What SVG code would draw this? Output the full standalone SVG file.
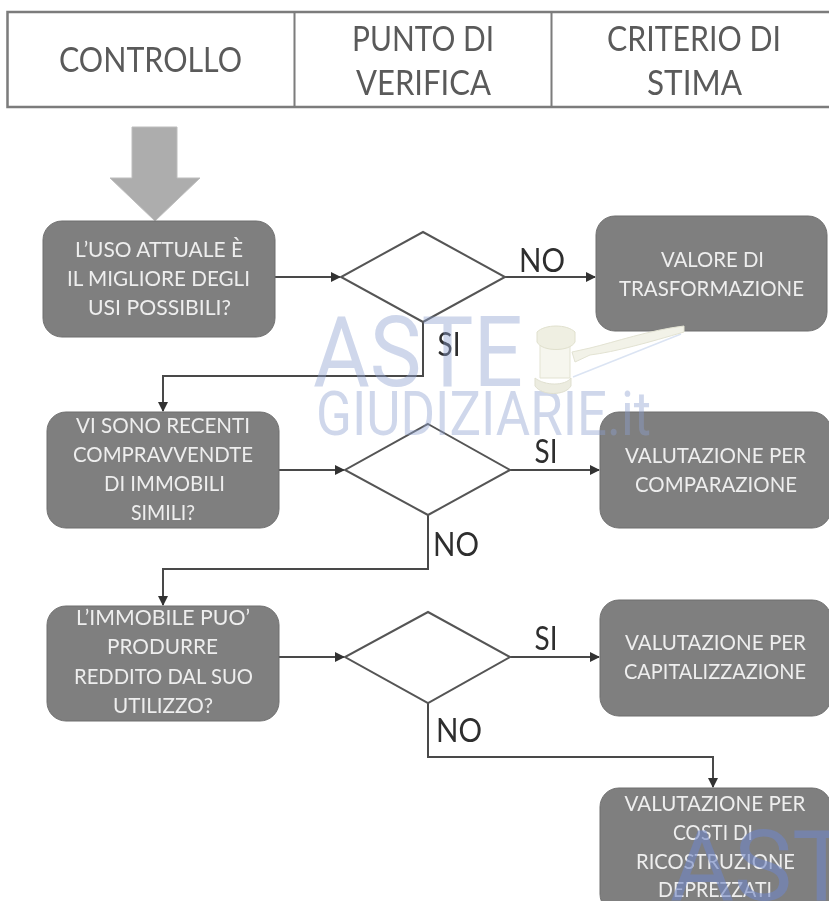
<svg xmlns="http://www.w3.org/2000/svg" width="829" height="901" viewBox="0 0 829 901">
<style>
text{font-family:"Lato","Liberation Sans",sans-serif;text-anchor:middle}
.h{font-size:34px;fill:#5a5a5a}
.n{font-size:21px;fill:#eeeeee}
.l{font-size:33px;fill:#2e2e2e}
.box{fill:#7f7f7f;stroke:#6f6f6f;stroke-width:1}
.dia{fill:#fff;stroke:#555;stroke-width:2}
.c{fill:none;stroke:#4a4a4a;stroke-width:2}
.w{font-family:"Roboto","Liberation Sans",sans-serif;fill:#8c9fd0;fill-opacity:.42;text-anchor:start;font-weight:400}
.w2{fill:#6f86c4;fill-opacity:.6}
</style>
<defs>
<marker id="a" markerWidth="11" markerHeight="11" refX="9" refY="5" orient="auto" markerUnits="userSpaceOnUse"><path d="M0 0L10 5L0 10Z" fill="#333"/></marker>
<filter id="b" x="-5%" y="-5%" width="110%" height="110%"><feGaussianBlur stdDeviation="0.7"/></filter>
</defs>
<rect width="829" height="901" fill="#fff"/>
<g filter="url(#b)">
<g id="header">
<path d="M829 12H7.500V107H829" fill="#fff" stroke="#7b7b7b" stroke-width="2.500"/>
<path d="M294.500 12V107M551.500 12V107" stroke="#7b7b7b" stroke-width="2"/>
<text class="h" x="150.500" y="72" textLength="183" lengthAdjust="spacingAndGlyphs">CONTROLLO</text>
<text class="h" x="423" y="51" textLength="142" lengthAdjust="spacingAndGlyphs">PUNTO DI</text>
<text class="h" x="423.500" y="95" textLength="135" lengthAdjust="spacingAndGlyphs">VERIFICA</text>
<text class="h" x="694" y="51" textLength="174" lengthAdjust="spacingAndGlyphs">CRITERIO DI</text>
<text class="h" x="694.500" y="95" textLength="95" lengthAdjust="spacingAndGlyphs">STIMA</text>
</g>
<g id="start-arrow"><path d="M132 127H177V178H200L155 221L110 178H132Z" fill="#adadad" stroke="#bdbdbd"/></g>
<g id="connectors">
<path class="c" d="M275 277H340" marker-end="url(#a)"/>
<path class="c" d="M505 277H595" marker-end="url(#a)"/>
<path class="c" d="M423 322V376H163V411" marker-end="url(#a)"/>
<path class="c" d="M279 470H344" marker-end="url(#a)"/>
<path class="c" d="M510 470H599" marker-end="url(#a)"/>
<path class="c" d="M428 515V569H163V605" marker-end="url(#a)"/>
<path class="c" d="M279 657H344" marker-end="url(#a)"/>
<path class="c" d="M510 657H599" marker-end="url(#a)"/>
<path class="c" d="M428 703V757H713V787" marker-end="url(#a)"/>
</g>
<g id="n1"><rect class="box" x="43" y="221" width="232" height="116" rx="19"/><text class="n" x="159" y="257" textLength="168" lengthAdjust="spacingAndGlyphs">L’USO ATTUALE È</text><text class="n" x="158.500" y="286" textLength="183" lengthAdjust="spacingAndGlyphs">IL MIGLIORE DEGLI</text><text class="n" x="159.500" y="315" textLength="143" lengthAdjust="spacingAndGlyphs">USI POSSIBILI?</text></g>
<g id="d1"><path class="dia" d="M423 232L505 277L423 322L341 277Z"/></g>
<g id="r1"><rect class="box" x="596" y="216" width="231" height="115" rx="19"/><text class="n" x="712.500" y="267" textLength="103" lengthAdjust="spacingAndGlyphs">VALORE DI</text><text class="n" x="711.500" y="296" textLength="185" lengthAdjust="spacingAndGlyphs">TRASFORMAZIONE</text></g>
<g id="n2"><rect class="box" x="47" y="412" width="232" height="116" rx="19"/><text class="n" x="163" y="433" textLength="174" lengthAdjust="spacingAndGlyphs">VI SONO RECENTI</text><text class="n" x="163" y="462" textLength="180" lengthAdjust="spacingAndGlyphs">COMPRAVVENDTE</text><text class="n" x="164.500" y="491" textLength="121" lengthAdjust="spacingAndGlyphs">DI IMMOBILI</text><text class="n" x="163" y="520" textLength="64" lengthAdjust="spacingAndGlyphs">SIMILI?</text></g>
<g id="d2"><path class="dia" d="M428 424L510 470L428 515L345 470Z"/></g>
<g id="r2"><rect class="box" x="600" y="412" width="231" height="116" rx="19"/><text class="n" x="715.500" y="463" textLength="181" lengthAdjust="spacingAndGlyphs">VALUTAZIONE PER</text><text class="n" x="716" y="492" textLength="162" lengthAdjust="spacingAndGlyphs">COMPARAZIONE</text></g>
<g id="n3"><rect class="box" x="47" y="606" width="232" height="115" rx="19"/><text class="n" x="163" y="625" textLength="174" lengthAdjust="spacingAndGlyphs">L’IMMOBILE PUO’</text><text class="n" x="162.500" y="654" textLength="111" lengthAdjust="spacingAndGlyphs">PRODURRE</text><text class="n" x="163.500" y="684" textLength="179" lengthAdjust="spacingAndGlyphs">REDDITO DAL SUO</text><text class="n" x="163" y="713" textLength="100" lengthAdjust="spacingAndGlyphs">UTILIZZO?</text></g>
<g id="d3"><path class="dia" d="M428 612L510 657L428 703L345 657Z"/></g>
<g id="r3"><rect class="box" x="600" y="600" width="231" height="116" rx="19"/><text class="n" x="715.500" y="650" textLength="181" lengthAdjust="spacingAndGlyphs">VALUTAZIONE PER</text><text class="n" x="715" y="679" textLength="182" lengthAdjust="spacingAndGlyphs">CAPITALIZZAZIONE</text></g>
<g id="r4"><rect class="box" x="600" y="788" width="231" height="125" rx="19"/><text class="n" x="715" y="811" textLength="181" lengthAdjust="spacingAndGlyphs">VALUTAZIONE PER</text><text class="n" x="713" y="840" textLength="80" lengthAdjust="spacingAndGlyphs">COSTI DI</text><text class="n" x="715.500" y="869" textLength="159" lengthAdjust="spacingAndGlyphs">RICOSTRUZIONE</text><text class="n" x="715" y="897" textLength="114" lengthAdjust="spacingAndGlyphs">DEPREZZATI</text></g>
<g id="labels">
<text class="l" x="542" y="272" textLength="46" lengthAdjust="spacingAndGlyphs">NO</text>
<text class="l" x="449" y="356" textLength="23" lengthAdjust="spacingAndGlyphs">SI</text>
<text class="l" x="546" y="463" textLength="23" lengthAdjust="spacingAndGlyphs">SI</text>
<text class="l" x="456" y="556" textLength="46" lengthAdjust="spacingAndGlyphs">NO</text>
<text class="l" x="546" y="650" textLength="23" lengthAdjust="spacingAndGlyphs">SI</text>
<text class="l" x="459" y="742" textLength="46" lengthAdjust="spacingAndGlyphs">NO</text>
</g>
<g id="watermark">
<text class="w" x="313" y="386" font-size="98" textLength="210" lengthAdjust="spacingAndGlyphs">ASTE</text>
<text class="w" x="316" y="435" font-size="62" textLength="335" lengthAdjust="spacingAndGlyphs">GIUDIZIARIE.it</text>
<text class="w w2" x="670" y="900" font-size="98">AST</text>
<path d="M573 377L681 334" stroke="#dbe4f3" stroke-width="1.500" fill="none"/>
<path d="M572 352L590 348C615 342 650 330 684 326L684 332C650 342 615 352 590 355L575 362Z" fill="#f2f2e8" stroke="#e2e2d2"/>
<path d="M540 345L570 345V378L540 378Z" fill="#f6f6ee" stroke="#e3e3d2"/>
<path d="M537 332C545 324 567 324 575 332V342C570 352 542 352 537 342Z" fill="#efefe2" stroke="#e0e0cd"/>
<path d="M535 378C545 386 565 386 571 378V386C565 396 542 396 535 386Z" fill="#ecece0" stroke="#dfdfcf"/>
</g>
</g>
</svg>
